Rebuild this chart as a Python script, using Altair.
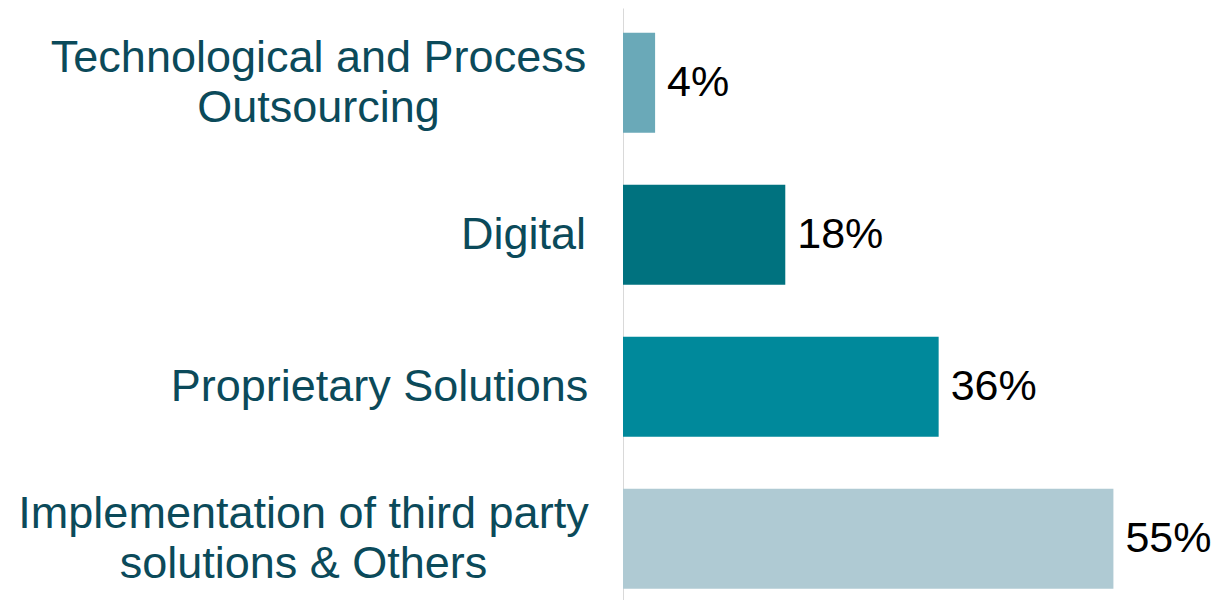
import json
import altair as alt
import pandas as pd

categories = [
    "Technological and Process\nOutsourcing",
    "Digital",
    "Proprietary Solutions",
    "Implementation of third party\nsolutions & Others",
]
values = [3.6, 18.2, 35.4, 55.0]
labels = ["4%", "18%", "36%", "55%"]
colors = ["#6aa9b8", "#00727f", "#00899b", "#afcad3"]
# distance from axis to the centre of each label block
label_pad = [305, 100, 244, 320]
# vertical shift of each label block
label_off = [-25, 0, 0, -25]

df = pd.DataFrame({"cat": categories, "val": values, "lab": labels})

cat_json = json.dumps(categories)
pad_json = json.dumps(label_pad)
off_json = json.dumps(label_off)

y_enc = alt.Y(
    "cat:N",
    sort=categories,
    title=None,
    scale=alt.Scale(paddingInner=0.342, paddingOuter=0.1185, align=0.69),
    axis=alt.Axis(
        labelExpr="split(datum.label, '\\n')",
        labelFont="Liberation Sans",
        labelFontSize=45,
        labelLineHeight=50,
        labelColor="#0b4a5a",
        labelLimit=800,
        labelAlign="center",
        labelPadding=alt.ExprRef(expr=f"{pad_json}[indexof({cat_json}, datum.value)]"),
        labelOffset=alt.ExprRef(expr=f"{off_json}[indexof({cat_json}, datum.value)]"),
        ticks=False,
        domainColor="#d9d9d9",
        domainWidth=1,
    ),
)

x_enc = alt.X(
    "val:Q",
    scale=alt.Scale(domain=[0, 60]),
    axis=None,
)

bars = alt.Chart(df).mark_bar().encode(
    y=y_enc,
    x=x_enc,
    color=alt.Color("cat:N", scale=alt.Scale(domain=categories, range=colors), legend=None),
)

text = alt.Chart(df).mark_text(
    align="left", baseline="middle", dx=12, font="Liberation Sans", fontSize=43, color="#000000"
).encode(
    y=alt.Y("cat:N", sort=categories),
    x="val:Q",
    text="lab:N",
)

chart = (
    alt.layer(bars, text)
    .properties(
        width=535,
        height=592,
        autosize=alt.AutoSizeParams(type="none"),
        padding={"left": 615, "top": 0, "right": 58, "bottom": 0},
    )
    .configure_view(stroke=None)
)

chart.save("out.html", embed_options={"renderer": "svg", "actions": False})
